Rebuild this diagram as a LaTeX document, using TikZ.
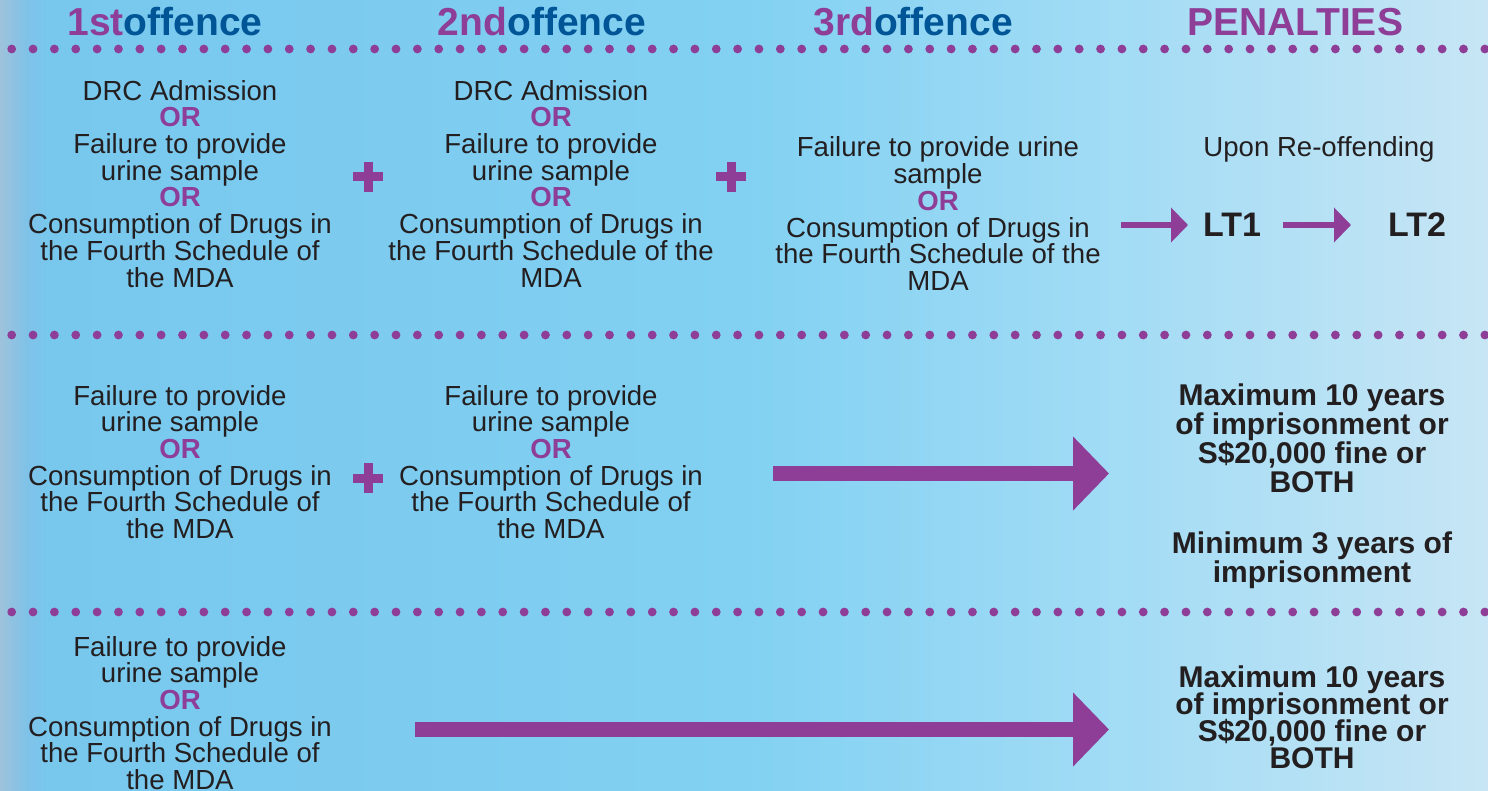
\documentclass[tikz,border=0pt]{standalone}
\usepackage{fontspec}
\setmainfont{Liberation Sans}
\usetikzlibrary{arrows.meta}

\definecolor{ink}{RGB}{35,31,32}
\definecolor{plum}{RGB}{142,62,150}
\definecolor{navy}{RGB}{0,85,150}
\pgfdeclarehorizontalshading{sky}{100bp}{rgb(0bp)=(0.62,0.76,0.86); rgb(25bp)=(0.62,0.76,0.86); rgb(25.9bp)=(0.50,0.76,0.91); rgb(26.6bp)=(0.47,0.78,0.93); rgb(50bp)=(0.51,0.82,0.95); rgb(62bp)=(0.63,0.86,0.96); rgb(75bp)=(0.78,0.90,0.96); rgb(100bp)=(0.78,0.90,0.96)}

\newcommand\orword{\textcolor{plum}{\bfseries OR}}
\setlength{\lineskiplimit}{-20pt}

\tikzset{
  rule/.style={plum},
  crossbar/.style={plum, line width=4.5pt},
  txt/.style={text=ink, align=center, anchor=base, inner sep=0pt,
    font=\fontsize{13.8}{13.35}\selectfont},
  pen/.style={text=ink, align=center, anchor=base, inner sep=0pt,
    font=\bfseries\fontsize{15}{14.4}\selectfont},
  head/.style={anchor=base, inner sep=0pt,
    font=\bfseries\fontsize{19.5}{20}\selectfont},
  thin arrow/.style={plum, line width=3pt, -{Triangle[length=8.5pt, width=17pt]}},
  fat arrow/.style={plum, line width=7.5pt, -{Triangle[length=18pt, width=36pt]}}
}

\begin{document}
\begin{tikzpicture}[x=0.5pt, y=-0.5pt]
		\shade[shading=sky] (0,0) rectangle (1488,791);
		\useasboundingbox (0,0) rectangle (1488,791);

		% headings
		\node[head] (h1) at (165,36) {\textcolor{plum}{1st}\textcolor{navy}{offence}};
		\node[head] (h2) at (542,36) {\textcolor{plum}{2nd}\textcolor{navy}{offence}};
		\node[head] (h3) at (913,36) {\textcolor{plum}{3rd}\textcolor{navy}{offence}};
		\node[head, text=plum] (h4) at (1295,36) {PENALTIES};

		% dotted rules
		\foreach \y in {49,335,612}
			\foreach \i in {0,...,69}
				\fill[rule] ({11.7+21.35*\i},\y) circle (2.2pt);

		% first row (base = last line)
		\node[txt] (a1) at (180,287) {DRC Admission\\\orword\\Failure to provide\\urine sample\\\orword\\Consumption of Drugs in\\the Fourth Schedule of\\the MDA};
		\node[txt] (a2) at (551,287) {DRC Admission\\\orword\\Failure to provide\\urine sample\\\orword\\Consumption of Drugs in\\the Fourth Schedule of the\\MDA};
		\node[txt] (a3) at (938,290.5) {Failure to provide urine\\sample\\\orword\\Consumption of Drugs in\\the Fourth Schedule of the\\MDA};
		\node[txt] (a4) at (1319,157) {Upon Re-offending};
		\node[head, text=ink, font=\bfseries\fontsize{17}{17}\selectfont] (lt1) at (1232,237) {LT1};
		\node[head, text=ink, font=\bfseries\fontsize{17}{17}\selectfont] (lt2) at (1417,237) {LT2};

		\coordinate (p1s) at (1121,225);
		\coordinate (p1e) at (1188,225);
		\coordinate (p2s) at (1283,225);
		\coordinate (p2e) at (1351,225);
		\draw[thin arrow] (p1s) -- (p1e);
		\draw[thin arrow] (p2s) -- (p2e);

		% second row
		\node[txt] (b1) at (180,538.5) {Failure to provide\\urine sample\\\orword\\Consumption of Drugs in\\the Fourth Schedule of\\the MDA};
		\node[txt] (b2) at (551,538.5) {Failure to provide\\urine sample\\\orword\\Consumption of Drugs in\\the Fourth Schedule of\\the MDA};
		\node[pen] (b3) at (1312,492) {Maximum 10 years\\of imprisonment or\\S\$20,000 fine or\\BOTH};
		\node[pen] (b4) at (1312,582) {Minimum 3 years of\\imprisonment};

		\coordinate (q1s) at (773,473.5);
		\coordinate (q1e) at (1109,473.5);
		\draw[fat arrow] (q1s) -- (q1e);

		% third row
		\node[pen, font=\bfseries\fontsize{15}{13.5}\selectfont] (c2) at (1312,768) {Maximum 10 years\\of imprisonment or\\S\$20,000 fine or\\BOTH};
		\node[txt] (c1) at (180,789.5) {Failure to provide\\urine sample\\\orword\\Consumption of Drugs in\\the Fourth Schedule of\\the MDA};

		\coordinate (r1s) at (415,729.5);
		\coordinate (r1e) at (1109,729.5);
		\draw[fat arrow] (r1s) -- (r1e);

		% plus signs
		\foreach \p in {(368,177),(731,177),(368,478)}
			\draw[crossbar] \p +(-15,0) -- +(15,0) \p +(0,-15) -- +(0,15);

	\end{tikzpicture}
\end{document}
